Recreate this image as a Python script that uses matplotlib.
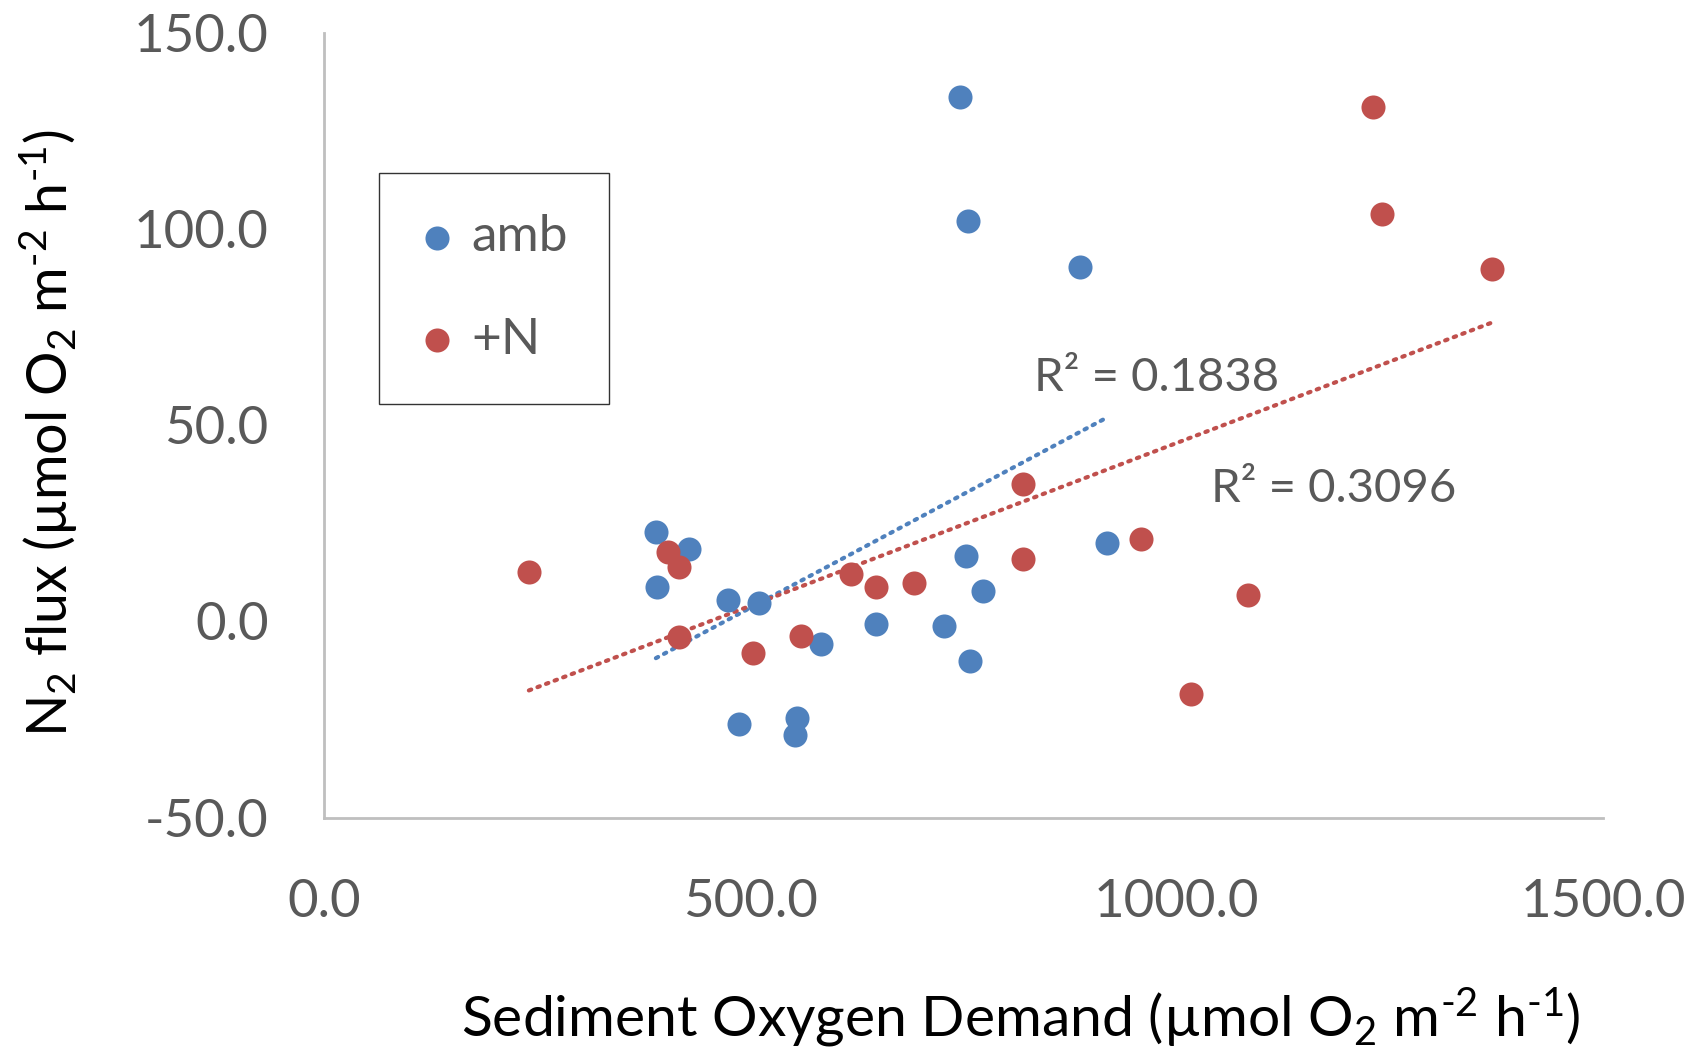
import numpy as np
import matplotlib
matplotlib.use("Agg")
from matplotlib import pyplot as plt

# amb series (sediment oxygen demand, N2 flux)
amb_sod = [746, 755, 886, 389, 428, 390, 474, 510, 753, 773, 918, 647, 727, 583, 758, 487, 554, 552]
amb_n2 = [133.5, 102.0, 90.2, 22.9, 18.5, 8.8, 5.5, 4.7, 16.6, 7.7, 19.9, -0.6, -1.1, -5.8, -10.2, -26.2, -24.6, -29.0]

# +N series
pn_sod = [1230, 1241, 1370, 240, 403, 416, 416, 503, 559, 618, 647, 692, 820, 820, 958, 1084, 1017]
pn_n2 = [131.0, 103.7, 89.7, 12.7, 17.7, 13.8, -4.1, -8.0, -3.6, 12.1, 8.8, 9.9, 35.0, 16.0, 21.0, 6.6, -18.5]

r2_labels = ["R\u00b2 = 0.1838", "R\u00b2 = 0.3096"]
xticks = [0, 500, 1000, 1500]
yticks = [-50, 0, 50, 100, 150]

blue = '#4F81BD'
red = '#C0504D'
grey = '#595959'

plt.rcParams['font.family'] = ['Lato', 'DejaVu Sans']
plt.rcParams['mathtext.fontset'] = 'custom'
plt.rcParams['mathtext.rm'] = 'Lato'

fig = plt.figure(figsize=(16.98, 10.51), dpi=100)
ax = fig.add_axes([0.191, 0.222, 0.753, 0.747])

ax.scatter(amb_sod, amb_n2, s=300, color=blue, label='amb', zorder=3, linewidths=0)
ax.scatter(pn_sod, pn_n2, s=300, color=red, label='+N', zorder=3, linewidths=0)

# linear trendlines
for xs, ys, c in [(amb_sod, amb_n2, blue), (pn_sod, pn_n2, red)]:
    k, b = np.polyfit(xs, ys, 1)
    xx = np.array([min(xs), max(xs)])
    ax.plot(xx, k * xx + b, color=c, lw=3, linestyle=(0, (0.6, 1.6)),
            dash_capstyle='round', zorder=2)

ax.text(833, 62, r2_labels[0], color=grey, fontsize=34, va='center', ha='left')
ax.text(1040, 33.7, r2_labels[1], color=grey, fontsize=34, va='center', ha='left')

ax.set_xlim(0, 1500)
ax.set_ylim(-50, 150)
ax.set_xticks(xticks)
ax.set_yticks(yticks)
ax.set_xticklabels(['%.1f' % v for v in xticks])
ax.set_yticklabels(['%.1f' % v for v in yticks])
ax.tick_params(length=0, labelcolor=grey, labelsize=38)
ax.tick_params(axis='y', pad=40)
ax.tick_params(axis='x', pad=44)

for s in ['top', 'right']:
    ax.spines[s].set_visible(False)
for s in ['left', 'bottom']:
    ax.spines[s].set_color('#BFBFBF')
    ax.spines[s].set_linewidth(2)

leg = ax.legend(loc='upper left', bbox_to_anchor=(379 / 1698, 1 - 173 / 1051),
                bbox_transform=fig.transFigure, borderaxespad=0, fontsize=37,
                frameon=True, fancybox=False, edgecolor='black',
                handletextpad=0.35, labelspacing=1.1, borderpad=0.8,
                handlelength=0.65, markerscale=1.0)
leg.get_frame().set_linewidth(1)
for t in leg.get_texts():
    t.set_color(grey)

unit = '(\u00b5mol O$\\mathregular{_2}$ m$\\mathregular{^{\\text{-2}}}$ h$\\mathregular{^{\\text{-1}}}$)'
fig.text(49 / 1698, 1 - 433 / 1051, 'N$\\mathregular{_2}$ flux ' + unit,
         rotation=90, ha='center', va='center', fontsize=40, color='black')
fig.text(1021 / 1698, 1 - 1018 / 1051, 'Sediment Oxygen Demand ' + unit,
         ha='center', va='center', fontsize=41, color='black')

fig.savefig('out.png', dpi=100)
